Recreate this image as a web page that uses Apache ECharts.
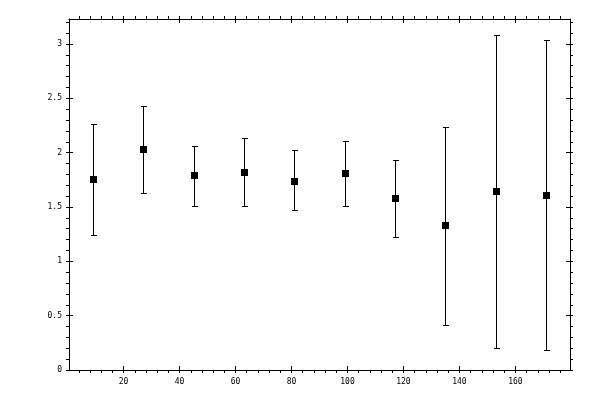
<!DOCTYPE html>
<html>
<head>
<meta charset="utf-8">
<script src="https://cdn.jsdelivr.net/npm/echarts@6/dist/echarts.min.js"></script>
<style>html,body{margin:0;padding:0;background:#fff;}#c{width:600px;height:400px;}</style>
</head>
<body>
<div id="c"></div>
<script>
var xValues = [9, 27, 45, 63, 81, 99, 117, 135, 153, 171];
var yValues = [1.76, 2.03, 1.79, 1.82, 1.74, 1.815, 1.583, 1.333, 1.648, 1.611];
var yHigh = [2.265, 2.43, 2.065, 2.135, 2.02, 2.11, 1.935, 2.24, 3.083, 3.037];
var yLow = [1.24, 1.63, 1.51, 1.51, 1.472, 1.51, 1.222, 0.417, 0.204, 0.185];
var xMajorTicks = [20, 40, 60, 80, 100, 120, 140, 160];
var xMinorTicks = [4,8,12,16,24,28,32,36,44,48,52,56,64,68,72,76,84,88,92,96,104,108,112,116,124,128,132,136,144,148,152,156,164,168,172,176];
var yMajorTicks = [0, 0.5, 1, 1.5, 2, 2.5, 3];
var yMinorTicks = [0.1,0.2,0.3,0.4,0.6,0.7,0.8,0.9,1.1,1.2,1.3,1.4,1.6,1.7,1.8,1.9,2.1,2.2,2.3,2.4,2.6,2.7,2.8,2.9,3.1,3.2];
var X_MIN = 0.5, X_MAX = 179.5, Y_MIN = 0, Y_MAX = 3.23;

var chart = echarts.init(document.getElementById('c'), null, {renderer: 'canvas'});
var font = {fontFamily: 'DejaVu Sans Mono', fontSize: 8, color: '#000'};
var lineStyle = {color: '#000', width: 1};

function xAxisDef(pos, showLine, ticks, inside, len, labels) {
  return {
    type: 'value', position: pos, min: X_MIN, max: X_MAX,
    axisLine: {show: showLine, onZero: false, lineStyle: lineStyle},
    axisTick: {show: true, inside: inside, length: len, customValues: ticks, lineStyle: lineStyle},
    axisLabel: labels ? Object.assign({show: true, margin: 8, customValues: xMajorTicks,
      formatter: function (v) { return String(v); }}, font) : {show: false},
    splitLine: {show: false}
  };
}
function yAxisDef(pos, showLine, ticks, inside, len, labels) {
  return {
    type: 'value', position: pos, min: Y_MIN, max: Y_MAX,
    axisLine: {show: showLine, onZero: false, lineStyle: lineStyle},
    axisTick: {show: true, inside: inside, length: len, customValues: ticks, lineStyle: lineStyle},
    axisLabel: labels ? Object.assign({show: true, margin: 7, customValues: yMajorTicks,
      formatter: function (v) { return String(v); }}, font) : {show: false},
    splitLine: {show: false}
  };
}

var data = xValues.map(function (x, i) { return [x, yValues[i], yLow[i], yHigh[i]]; });

chart.setOption({
  animation: false,
  backgroundColor: '#fff',
  grid: {left: 69, right: 30, top: 19, bottom: 30, containLabel: false},
  xAxis: [
    xAxisDef('bottom', true, xMajorTicks.concat(xMinorTicks), false, 3, true),
    xAxisDef('bottom', false, xMajorTicks, true, 4, false),
    xAxisDef('top', true, xMajorTicks.concat(xMinorTicks), false, 3, false),
    xAxisDef('top', false, xMajorTicks, true, 4, false)
  ],
  yAxis: [
    yAxisDef('left', true, yMajorTicks.concat(yMinorTicks), false, 3, true),
    yAxisDef('left', false, yMajorTicks, true, 4, false),
    yAxisDef('right', true, yMajorTicks.concat(yMinorTicks), false, 3, false),
    yAxisDef('right', false, yMajorTicks, true, 4, false)
  ],
  series: [{
    type: 'custom',
    xAxisIndex: 0, yAxisIndex: 0,
    data: data,
    renderItem: function (params, api) {
      var x = api.value(0);
      var c = api.coord([x, api.value(1)]);
      var lo = api.coord([x, api.value(2)]);
      var hi = api.coord([x, api.value(3)]);
      var px = Math.round(c[0]) + 0.5;
      var cap = 2.5;
      var st = {stroke: '#000', lineWidth: 1, fill: null};
      return {
        type: 'group',
        children: [
          {type: 'line', shape: {x1: px, y1: Math.round(hi[1]) + 0.5, x2: px, y2: Math.round(lo[1]) + 0.5}, style: st},
          {type: 'line', shape: {x1: px - cap, y1: Math.round(hi[1]) + 0.5, x2: px + cap + 1, y2: Math.round(hi[1]) + 0.5}, style: st},
          {type: 'line', shape: {x1: px - cap, y1: Math.round(lo[1]) + 0.5, x2: px + cap + 1, y2: Math.round(lo[1]) + 0.5}, style: st},
          {type: 'rect', shape: {x: Math.round(c[0]) - 3, y: Math.round(c[1]) - 3, width: 7, height: 7}, style: {fill: '#000'}}
        ]
      };
    }
  }]
});
</script>
</body>
</html>
